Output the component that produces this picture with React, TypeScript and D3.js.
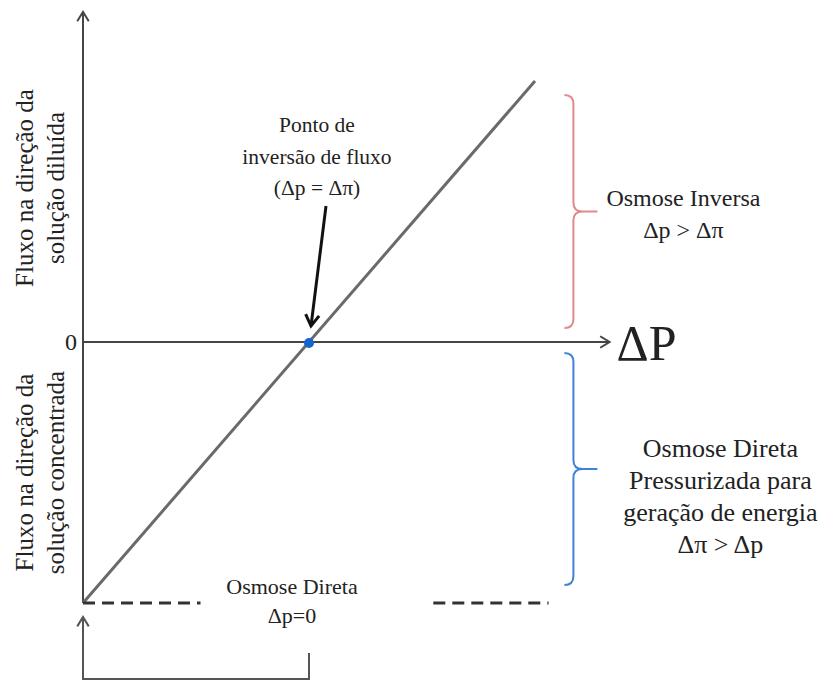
import React from "react";
import * as d3 from "d3";

const W = 822;
const H = 681;

// x: applied pressure difference Δp (Δπ = 1), y: water flux J = Δp − Δπ
const fluxLine = [
  { dp: 0, j: -1 },
  { dp: 2, j: 1 },
];
const inversion = { dp: 1, j: 0 };
const axisEnds = { x: 2.33, y: 1.265 };
const dashedSpans = [
  [0, 0.52],
  [1.55, 2.06],
];
const braceX = 2.17;
const braces = [
  { from: 0.946, to: 0.054, lines: ["Osmose Inversa", "Δp > Δπ"] },
  {
    from: -0.042,
    to: -0.931,
    lines: ["Osmose Direta", "Pressurizada para", "geração de energia", "Δπ > Δp"],
  },
];
const yLabels = [
  { mid: 0.59, lines: ["Fluxo na direção da", "solução diluída"] },
  { mid: -0.5, lines: ["Fluxo na direção da", "solução concentrada"] },
];
const pointLabel = ["Ponto de", "inversão de fluxo", "(Δp = Δπ)"];
const bottomLabel = ["Osmose Direta", "Δp=0"];

const FONT = "'Liberation Serif', 'Times New Roman', serif";
const braceColors = ["#df8a8d", "#3f82d6"];
// text block placement next to each brace: [centre offset from brace, first baseline offset from brace middle]
const braceText = [
  [110, -6],
  [147, -12],
];

function bracePath(x: number, y1: number, y2: number) {
  const ym = (y1 + y2) / 2;
  const h = 9;
  const d = 24;
  return [
    `M${x - h},${y1}`,
    `Q${x},${y1} ${x},${y1 + h}`,
    `L${x},${ym - h}`,
    `Q${x},${ym} ${x + h},${ym}`,
    `L${x + d},${ym}`,
    `M${x + h},${ym}`,
    `Q${x},${ym} ${x},${ym + h}`,
    `L${x},${y2 - h}`,
    `Q${x},${y2} ${x - h},${y2}`,
  ].join(" ");
}

function arrowHead(x: number, y: number, angle: number, size = 11) {
  // open V head, angle = direction of travel (radians)
  const a1 = angle + Math.PI - 0.55;
  const a2 = angle + Math.PI + 0.55;
  return `M${x + size * Math.cos(a1)},${y + size * Math.sin(a1)} L${x},${y} L${x + size * Math.cos(a2)},${y + size * Math.sin(a2)}`;
}

export default function App() {
  const x = d3.scaleLinear().domain([0, 2]).range([83, 535]);
  const y = d3.scaleLinear().domain([-1, 1]).range([603, 81]);

  const line = d3
    .line<{ dp: number; j: number }>()
    .x((d) => x(d.dp))
    .y((d) => y(d.j));

  const x0 = x(0);
  const y0 = y(0);
  const xEnd = x(axisEnds.x);
  const yTop = y(axisEnds.y);
  const yBase = y(-1);

  const ix = x(inversion.dp);
  const iy = y(inversion.j);
  const pStart = [ix + 17, iy - 136];
  const pTip = [ix + 2, iy - 16];
  const pAng = Math.atan2(pTip[1] - pStart[1], pTip[0] - pStart[0]);

  const bx = x(braceX);

  return (
    <svg
      width={W}
      height={H}
      style={{ position: "absolute", left: 0, top: 0, background: "#fff" }}
      fontFamily={FONT}
    >
      {/* axes */}
      <g stroke="#454545" strokeWidth={2} fill="none">
        <line x1={x0} y1={yBase} x2={x0} y2={yTop} />
        <path d={arrowHead(x0, yTop, -Math.PI / 2)} />
        <line x1={x0} y1={y0} x2={xEnd} y2={y0} />
        <path d={arrowHead(xEnd, y0, 0)} />
      </g>
      <text x={x0 - 12} y={y0} fontSize={24} textAnchor="middle" dominantBaseline="central" fill="#222">
        0
      </text>
      <text x={xEnd + 7} y={y0 + 18} fontSize={50} fill="#222">
        ΔP
      </text>

      {/* flux line */}
      <path d={line(fluxLine) || ""} stroke="#6a6a6a" strokeWidth={3} fill="none" />

      {/* Δp = 0 dashed level */}
      <g stroke="#333" strokeWidth={3} strokeDasharray="12 7">
        {dashedSpans.map(([a, b], i) => (
          <line key={i} x1={x(a)} y1={yBase} x2={x(b)} y2={yBase} />
        ))}
      </g>

      {/* bottom bracket arrow */}
      <g stroke="#555" strokeWidth={2} fill="none">
        <path d={`M${x0},${yBase + 14} L${x0},${yBase + 76} L${ix},${yBase + 76} L${ix},${yBase + 50}`} />
        <path d={arrowHead(x0, yBase + 14, -Math.PI / 2)} />
      </g>

      {/* pointer to inversion point */}
      <g stroke="#111" strokeWidth={3} fill="none">
        <line x1={pStart[0]} y1={pStart[1]} x2={pTip[0]} y2={pTip[1]} />
        <path d={arrowHead(pTip[0], pTip[1], pAng, 13)} />
      </g>
      <circle cx={ix} cy={iy + 1} r={5} fill="#1565d0" />

      {/* braces */}
      {braces.map((b, i) => {
        const y1 = y(b.from);
        const y2 = y(b.to);
        const ym = (y1 + y2) / 2;
        const [dx, dy] = braceText[i];
        return (
          <g key={i}>
            <path d={bracePath(bx, y1, y2)} stroke={braceColors[i]} strokeWidth={2} fill="none" />
            {b.lines.map((t, k) => (
              <text
                key={k}
                x={bx + dx}
                y={ym + dy + k * 32}
                fontSize={i === 0 ? 24 : 26}
                textAnchor="middle"
                fill="#222"
              >
                {t}
              </text>
            ))}
          </g>
        );
      })}

      {/* y-axis labels */}
      {yLabels.map((l, i) => (
        <g key={i} transform={`translate(${x0 - 50},${y(l.mid)}) rotate(-90)`}>
          {l.lines.map((t, k) => (
            <text key={k} x={0} y={k * 31} fontSize={25} textAnchor="middle" fill="#222">
              {t}
            </text>
          ))}
        </g>
      ))}

      {/* inversion point label */}
      {pointLabel.map((t, k) => (
        <text key={k} x={ix + 8} y={132 + k * 31.5} fontSize={21.5} textAnchor="middle" fill="#222">
          {t}
        </text>
      ))}

      {/* bottom label */}
      {bottomLabel.map((t, k) => (
        <text key={k} x={ix - 17} y={yBase - 9 + k * 29} fontSize={22} textAnchor="middle" fill="#222">
          {t}
        </text>
      ))}
    </svg>
  );
}
